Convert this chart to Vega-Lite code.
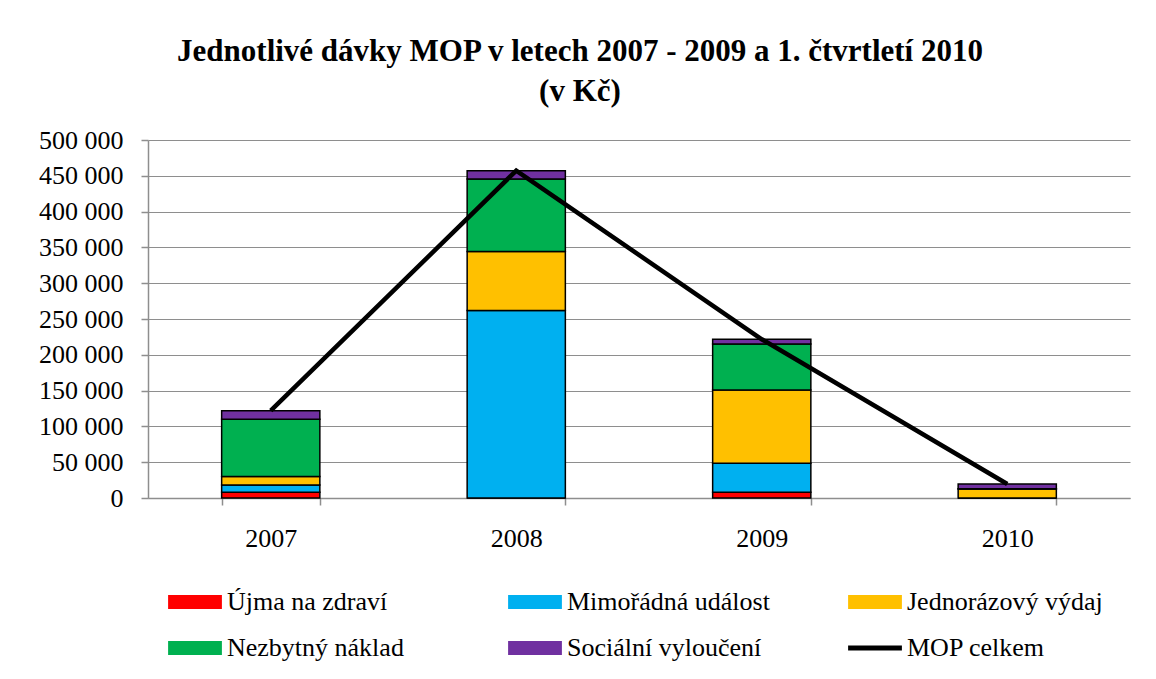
{
  "$schema": "https://vega.github.io/schema/vega-lite/v6.json",
  "width": 982,
  "height": 358,
  "autosize": {"type": "none"},
  "padding": {"left": 148, "top": 140, "right": 26, "bottom": 181},
  "background": "white",
  "config": {
    "font": "Liberation Serif",
    "view": {"stroke": null},
    "locale": {"number": {"decimal": ",", "thousands": " ", "grouping": [3], "currency": ["", " Kč"]}}
  },
  "title": {
    "text": ["Jednotlivé dávky MOP v letech 2007 - 2009 a 1. čtvrtletí 2010", "(v Kč)"],
    "font": "Liberation Serif",
    "fontSize": 31,
    "fontWeight": "bold",
    "color": "black",
    "anchor": "middle",
    "frame": "group",
    "dx": -59,
    "offset": 19,
    "lineHeight": 40
  },
  "datasets": {
    "parts": [
      {"year": "2007", "series": "Újma na zdraví", "ord": 1, "value": 8000},
      {"year": "2007", "series": "Mimořádná událost", "ord": 2, "value": 10000},
      {"year": "2007", "series": "Jednorázový výdaj", "ord": 3, "value": 12000},
      {"year": "2007", "series": "Nezbytný náklad", "ord": 4, "value": 80000},
      {"year": "2007", "series": "Sociální vyloučení", "ord": 5, "value": 12000},
      {"year": "2008", "series": "Újma na zdraví", "ord": 1, "value": 0},
      {"year": "2008", "series": "Mimořádná událost", "ord": 2, "value": 261700},
      {"year": "2008", "series": "Jednorázový výdaj", "ord": 3, "value": 82400},
      {"year": "2008", "series": "Nezbytný náklad", "ord": 4, "value": 101600},
      {"year": "2008", "series": "Sociální vyloučení", "ord": 5, "value": 11500},
      {"year": "2009", "series": "Újma na zdraví", "ord": 1, "value": 8000},
      {"year": "2009", "series": "Mimořádná událost", "ord": 2, "value": 40500},
      {"year": "2009", "series": "Jednorázový výdaj", "ord": 3, "value": 102400},
      {"year": "2009", "series": "Nezbytný náklad", "ord": 4, "value": 64200},
      {"year": "2009", "series": "Sociální vyloučení", "ord": 5, "value": 6600},
      {"year": "2010", "series": "Újma na zdraví", "ord": 1, "value": 0},
      {"year": "2010", "series": "Mimořádná událost", "ord": 2, "value": 0},
      {"year": "2010", "series": "Jednorázový výdaj", "ord": 3, "value": 12500},
      {"year": "2010", "series": "Nezbytný náklad", "ord": 4, "value": 500},
      {"year": "2010", "series": "Sociální vyloučení", "ord": 5, "value": 6500}
    ],
    "totals": [
      {"year": "2007", "series": "MOP celkem", "value": 122000},
      {"year": "2008", "series": "MOP celkem", "value": 457200},
      {"year": "2009", "series": "MOP celkem", "value": 221700},
      {"year": "2010", "series": "MOP celkem", "value": 19500}
    ]
  },
  "encoding": {
    "x": {
      "field": "year",
      "type": "ordinal",
      "sort": ["2007", "2008", "2009", "2010"],
      "scale": {"paddingInner": 0.6, "paddingOuter": 0.3},
      "axis": {
        "title": null,
        "labelAngle": 0,
        "labelFontSize": 26,
        "labelColor": "black",
        "labelFont": "Liberation Serif",
        "labelPadding": 20,
        "domainColor": "#8E8E8E",
        "domainWidth": 1.5,
        "tickColor": "#8E8E8E",
        "tickWidth": 1.5,
        "tickSize": 7,
        "tickBand": "extent",
        "grid": false
      }
    },
    "y": {
      "field": "value",
      "type": "quantitative",
      "scale": {"domain": [0, 500000], "nice": false},
      "axis": {
        "title": null,
        "values": [0, 50000, 100000, 150000, 200000, 250000, 300000, 350000, 400000, 450000, 500000],
        "format": ",d",
        "labelFontSize": 26,
        "labelColor": "black",
        "labelFont": "Liberation Serif",
        "labelPadding": 18,
        "domainColor": "#8E8E8E",
        "domainWidth": 1.5,
        "tickColor": "#8E8E8E",
        "tickWidth": 1.5,
        "tickSize": 7,
        "grid": true,
        "gridColor": "#8E8E8E",
        "gridWidth": 1.2
      }
    },
    "color": {
      "field": "series",
      "type": "nominal",
      "scale": {
        "domain": ["Újma na zdraví", "Mimořádná událost", "Jednorázový výdaj", "Nezbytný náklad", "Sociální vyloučení", "MOP celkem"],
        "range": ["#FF0000", "#00B0F0", "#FFC000", "#00B050", "#7030A0", "#000000"]
      },
      "legend": {
        "title": null,
        "orient": "none",
        "legendX": 20,
        "legendY": 435,
        "direction": "horizontal",
        "columns": 3,
        "gridAlign": "all",
        "columnPadding": 75,
        "rowPadding": 6,
        "symbolType": "M-1,-0.23H1V0.23H-1Z",
        "symbolSize": 2704,
        "symbolStrokeColor": "black",
        "symbolStrokeWidth": 1.8,
        "labelFontSize": 26,
        "labelFont": "Liberation Serif",
        "labelColor": "black",
        "labelOffset": 5,
        "labelLimit": 400,
        "encode": {
          "symbols": {
            "update": {
              "shape": {"signal": "datum.value === 'MOP celkem' ? 'M-1,-0.06H1V0.06H-1Z' : 'M-1,-0.23H1V0.23H-1Z'"},
              "stroke": {"value": "black"},
              "strokeWidth": {"value": 1.8},
              "opacity": {"value": 1}
            }
          }
        }
      }
    }
  },
  "layer": [
    {
      "data": {"name": "parts"},
      "mark": {"type": "bar", "stroke": "black", "strokeWidth": 1.5},
      "encoding": {
        "y": {"field": "value", "type": "quantitative", "stack": "zero"},
        "order": {"field": "ord", "type": "quantitative", "sort": "ascending"}
      }
    },
    {
      "data": {"name": "totals"},
      "mark": {"type": "line", "strokeWidth": 4.5},
      "encoding": {
        "y": {"field": "value", "type": "quantitative"}
      }
    }
  ]
}
